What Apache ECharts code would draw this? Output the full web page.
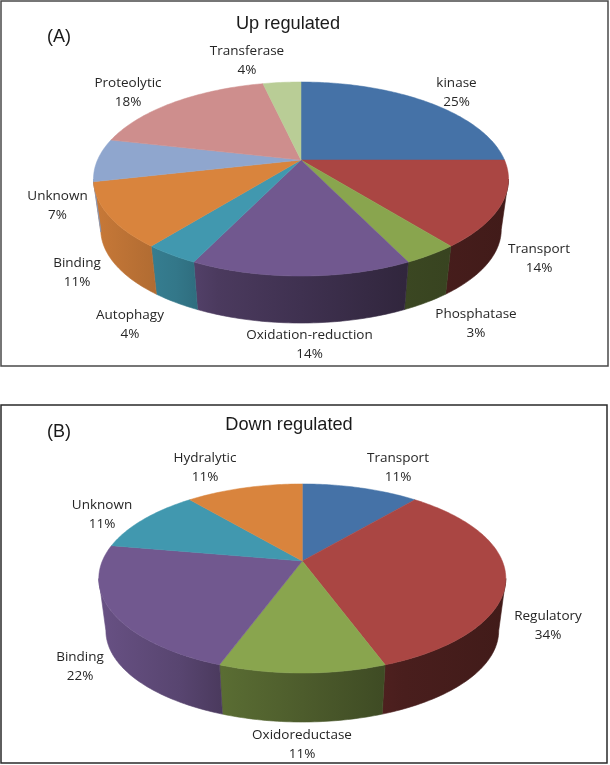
<!DOCTYPE html>
<html><head><meta charset="utf-8">
<style>html,body{margin:0;padding:0;background:#fff}#c{width:610px;height:765px}</style>
<script src="https://cdn.jsdelivr.net/npm/echarts@6/dist/echarts.min.js"></script>
</head><body><div id="c"></div>
<script>
// Data: slice sizes (counts) and the printed labels
const upNames = ['kinase','Transport','Phosphatase','Oxidation-reduction','Autophagy','Binding','Unknown','Proteolytic','Transferase'];
const upCounts = [7,4,1,4,1,3,2,5,1];
const upPercent = ['25%','14%','3%','14%','4%','11%','7%','18%','4%'];
const downNames = ['Transport','Regulatory','Oxidoreductase','Binding','Unknown','Hydralytic'];
const downCounts = [1,3,1,2,1,1];
const downPercent = ['11%','34%','11%','22%','11%','11%'];

// Styles and layout
const upColors = ['#4572A7','#AA4643','#89A54E','#71588F','#4198AF','#D9843D','#8FA6CE','#CE8E8D','#B9CD96'];
const downColors = ['#4572A7','#AA4643','#89A54E','#71588F','#4198AF','#D9843D'];
const upLabelAt = [[456.5,93],[539,259],[476,324],[309.5,345],[130,324.5],[77,273],[57.5,206],[128,93],[247,61]];
const downLabelAt = [[398,468],[548,626],[302,745],[80,667],[102,515],[205,468]];
const upShape = {cx:301,hubY:160,R:203.5,R2:93.3,k:0.196,depth:50.4,shrink:0.965,rimY:179};
const downShape = {cx:302.3,hubY:561,R:200,R2:91.3,k:0.185,depth:52.3,shrink:0.965,rimY:578.5};
const shadeStops = [[0,0.92],[0.2,0.78],[0.3,0.66],[0.5,0.56],[0.75,0.43],[1,0.38]];

function shade(hex,f){
  const n=parseInt(hex.slice(1),16);
  return 'rgb('+[(n>>16)&255,(n>>8)&255,n&255].map(v=>Math.round(v*f)).join(',')+')';
}
function rim(s,deg){
  const t=deg*Math.PI/180, X=Math.sin(t), Y=Math.cos(t), w=1+s.k*Y;
  return [s.cx+s.R*X/w, s.hubY-s.R2*Y/w];
}
function silhouetteAngle(s){
  const v=-(s.rimY-s.hubY)/s.R2;
  return Math.acos(v/(1-s.k*v))*180/Math.PI;
}
function lowerRim(s,p){
  return [s.cx+s.shrink*(p[0]-s.cx), s.rimY+s.shrink*(p[1]-s.rimY)+s.depth];
}
function arcPoints(s,a,b){
  const pts=[], n=Math.max(2,Math.ceil((b-a)));
  for(let i=0;i<=n;i++) pts.push(rim(s,a+(b-a)*i/n));
  return pts;
}
function spans(vals){
  const total=vals.reduce((a,b)=>a+b,0); let c=0;
  return vals.map(v=>{const a=c/total*360; c+=v; return [a,c/total*360];});
}
function sideSeries(vals,colors,s){
  const sp=spans(vals), edge=silhouetteAngle(s);
  return {type:'custom',coordinateSystem:'none',silent:true,z:1,data:vals.map((v,i)=>[v,i]),
    renderItem(params,api){
      const i=params.dataIndex, a=Math.max(sp[i][0],edge), b=Math.min(sp[i][1],360-edge);
      if(b<=a) return {type:'group',children:[]};
      const top=arcPoints(s,a,b), low=top.map(p=>lowerRim(s,p)).reverse();
      const grad=new echarts.graphic.LinearGradient(s.cx-s.R-4,0,s.cx+s.R+4,0,
        shadeStops.map(st=>({offset:st[0],color:shade(colors[i],st[1])})),true);
      return {type:'polygon',shape:{points:top.concat(low)},style:{fill:grad,stroke:grad,lineWidth:0.6}};
    }};
}
function topSeries(vals,colors,names,percents,labelAt,s){
  const sp=spans(vals);
  return {type:'custom',coordinateSystem:'none',silent:true,z:2,data:vals.map((v,i)=>[v,i]),
    renderItem(params,api){
      const i=params.dataIndex;
      const pts=[[s.cx,s.hubY]].concat(arcPoints(s,sp[i][0],sp[i][1]));
      return {type:'group',children:[
        {type:'polygon',shape:{points:pts},style:{fill:colors[i],stroke:colors[i],lineWidth:0.5}},
        {type:'text',z2:10,style:{x:labelAt[i][0],y:labelAt[i][1],text:names[i]+'\n'+percents[i],
          align:'center',verticalAlign:'middle',font:'13.5px "Open Sans"',lineHeight:19,fill:'#262626'}}
      ]};
    }};
}
function frame(x,y,w,h,c){
  return {type:'rect',shape:{x,y,width:w,height:h},style:{fill:'none',stroke:c,lineWidth:1.5},z:0};
}
function word(t,x,y){
  return {type:'text',style:{x,y,text:t,font:'18px "Liberation Sans"',fill:'#1a1a1a',align:'center',verticalAlign:'middle'},z:5};
}
const titleFont={fontFamily:'Liberation Sans',fontSize:18.2,fontWeight:'normal',color:'#1a1a1a'};
const chart=echarts.init(document.getElementById('c'),null,{renderer:'canvas'});
chart.setOption({
  animation:false,
  backgroundColor:'#fff',
  title:[
    {text:'Up regulated',left:288,top:15,padding:0,textAlign:'center',textStyle:titleFont},
    {text:'Down regulated',left:289,top:416,padding:0,textAlign:'center',textStyle:titleFont}
  ],
  graphic:[
    frame(1,1,607,365,'#4a4a4a'),
    frame(1,405,606,358,'#2a2a2a'),
    word('(A)',59,37),
    word('(B)',59,432)
  ],
  series:[
    sideSeries(upCounts,upColors,upShape),
    topSeries(upCounts,upColors,upNames,upPercent,upLabelAt,upShape),
    sideSeries(downCounts,downColors,downShape),
    topSeries(downCounts,downColors,downNames,downPercent,downLabelAt,downShape)
  ]
});
</script></body></html>
